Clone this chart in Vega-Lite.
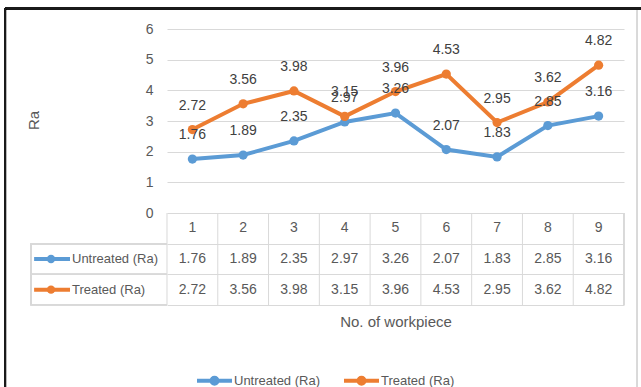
{
  "$schema": "https://vega.github.io/schema/vega-lite/v6.json",
  "width": 457,
  "height": 276,
  "autosize": {"type": "none"},
  "padding": {"left": 167, "top": 29, "right": 17, "bottom": 82},
  "background": "white",
  "config": {
    "view": {"stroke": null},
    "font": "Liberation Sans, Arial, sans-serif",
    "text": {"font": "Liberation Sans, Arial, sans-serif"}
  },
  "data": {
    "values": [
      {"n": 1, "series": "Untreated (Ra)", "ra": 1.76},
      {"n": 2, "series": "Untreated (Ra)", "ra": 1.89},
      {"n": 3, "series": "Untreated (Ra)", "ra": 2.35},
      {"n": 4, "series": "Untreated (Ra)", "ra": 2.97},
      {"n": 5, "series": "Untreated (Ra)", "ra": 3.26},
      {"n": 6, "series": "Untreated (Ra)", "ra": 2.07},
      {"n": 7, "series": "Untreated (Ra)", "ra": 1.83},
      {"n": 8, "series": "Untreated (Ra)", "ra": 2.85},
      {"n": 9, "series": "Untreated (Ra)", "ra": 3.16},
      {"n": 1, "series": "Treated (Ra)", "ra": 2.72},
      {"n": 2, "series": "Treated (Ra)", "ra": 3.56},
      {"n": 3, "series": "Treated (Ra)", "ra": 3.98},
      {"n": 4, "series": "Treated (Ra)", "ra": 3.15},
      {"n": 5, "series": "Treated (Ra)", "ra": 3.96},
      {"n": 6, "series": "Treated (Ra)", "ra": 4.53},
      {"n": 7, "series": "Treated (Ra)", "ra": 2.95},
      {"n": 8, "series": "Treated (Ra)", "ra": 3.62},
      {"n": 9, "series": "Treated (Ra)", "ra": 4.82}
    ]
  },
  "encoding": {
    "x": {
      "field": "n", "type": "quantitative",
      "scale": {"domain": [0.5, 9.5], "nice": false, "zero": false},
      "axis": {"title": "No. of workpiece", "labels": false, "ticks": false, "domain": false, "grid": false,
               "titleFontSize": 15, "titleColor": "#595959", "titleFontWeight": "normal", "titlePadding": 9}
    }
  },
  "layer": [
    {
      "mark": {"type": "line", "strokeWidth": 4, "point": {"filled": true, "size": 85}},
      "encoding": {
        "y": {
          "field": "ra", "type": "quantitative",
          "scale": {"domain": [-3, 6], "nice": false, "zero": false},
          "axis": {
            "title": "Ra", "values": [-3, -2, -1, 0, 1, 2, 3, 4, 5, 6], "tickCount": 12,
            "labelExpr": "datum.value >= 0 ? datum.label : ''",
            "labelOverlap": false,
            "grid": true, "gridColor": "#d9d9d9", "gridWidth": 1,
            "ticks": false, "domain": false,
            "labelPadding": 14, "labelFontSize": 14, "labelColor": "#595959",
            "titleFontSize": 15, "titleColor": "#595959", "titleFontWeight": "normal",
            "titleX": -134, "titleY": 91, "titleAlign": "center", "titleBaseline": "middle"
          }
        },
        "color": {
          "field": "series", "type": "nominal",
          "scale": {"domain": ["Untreated (Ra)", "Treated (Ra)"], "range": ["#5b9bd5", "#ed7d31"]},
          "legend": {
            "title": null, "orient": "none", "direction": "horizontal",
            "legendX": 28, "legendY": 332,
            "symbolType": "M-1,0H1M0.17,0A0.17,0.17,0,1,1,-0.17,0A0.17,0.17,0,1,1,0.17,0Z",
            "symbolSize": 1225, "symbolStrokeWidth": 4,
            "labelFontSize": 13, "labelColor": "#595959", "labelOffset": 0,
            "columnPadding": 16
          }
        }
      }
    },
    {
      "mark": {"type": "text", "dy": -24, "fontSize": 14, "color": "#404040"},
      "encoding": {
        "y": {"field": "ra", "type": "quantitative"},
        "text": {"field": "ra", "type": "quantitative", "format": ".2f"}
      }
    },
    {
      "transform": [{"filter": "datum.series == 'Untreated (Ra)'"}],
      "mark": {"type": "text", "fontSize": 14, "color": "#595959"},
      "encoding": {
        "y": {"datum": -0.5, "type": "quantitative"},
        "text": {"field": "n", "type": "quantitative"}
      }
    },
    {
      "transform": [{"filter": "datum.series == 'Untreated (Ra)'"}],
      "mark": {"type": "rule", "color": "#d9d9d9", "strokeWidth": 1, "xOffset": -25.39},
      "encoding": {
        "y": {"datum": 0, "type": "quantitative"},
        "y2": {"datum": -3}
      }
    },
    {
      "mark": {"type": "rule", "color": "#d9d9d9", "strokeWidth": 1},
      "encoding": {
        "x": {"datum": 9.5, "type": "quantitative"},
        "y": {"datum": 0, "type": "quantitative"},
        "y2": {"datum": -3}
      }
    },
    {
      "mark": {"type": "rule", "color": "#d9d9d9", "strokeWidth": 1},
      "encoding": {
        "x": {"datum": -2.184, "type": "quantitative"},
        "y": {"datum": -1, "type": "quantitative"},
        "y2": {"datum": -3}
      }
    },
    {
      "mark": {"type": "rule", "color": "#d9d9d9", "strokeWidth": 1},
      "encoding": {
        "x": {"datum": -2.184, "type": "quantitative"},
        "x2": {"datum": 0.5},
        "y": {"datum": -1, "type": "quantitative"}
      }
    },
    {
      "mark": {"type": "rule", "color": "#d9d9d9", "strokeWidth": 1},
      "encoding": {
        "x": {"datum": -2.184, "type": "quantitative"},
        "x2": {"datum": 0.5},
        "y": {"datum": -2, "type": "quantitative"}
      }
    },
    {
      "mark": {"type": "rule", "color": "#d9d9d9", "strokeWidth": 1},
      "encoding": {
        "x": {"datum": -2.184, "type": "quantitative"},
        "x2": {"datum": 0.5},
        "y": {"datum": -3, "type": "quantitative"}
      }
    },
    {
      "mark": {"type": "rule", "color": "#1a1a1a", "strokeWidth": 2},
      "encoding": {
        "x": {"datum": -2.69, "type": "quantitative"},
        "x2": {"datum": 9.9},
        "y": {"datum": 6.675, "type": "quantitative"}
      }
    },
    {
      "mark": {"type": "rule", "color": "#1a1a1a", "strokeWidth": 2},
      "encoding": {
        "x": {"datum": -2.69, "type": "quantitative"},
        "y": {"datum": 6.675, "type": "quantitative"},
        "y2": {"datum": -5.8}
      }
    },
    {
      "mark": {"type": "rule", "color": "#d9d9d9", "strokeWidth": 1},
      "encoding": {
        "x": {"datum": 9.755, "type": "quantitative"},
        "y": {"datum": 6.6, "type": "quantitative"},
        "y2": {"datum": -5.8}
      }
    },
    {
      "transform": [{"filter": "datum.series == 'Untreated (Ra)'"}],
      "encoding": {"y": {"datum": -1.5, "type": "quantitative"}},
      "layer": [
        {
          "mark": {"type": "text", "fontSize": 14, "color": "#595959"},
          "encoding": {"text": {"field": "ra", "type": "quantitative", "format": ".2f"}}
        },
        {
          "transform": [{"filter": "datum.n == 1"}],
          "mark": {"type": "rule", "strokeWidth": 4},
          "encoding": {
            "x": {"datum": -2.117, "type": "quantitative"},
            "x2": {"datum": -1.41},
            "color": {"field": "series", "type": "nominal"}
          }
        },
        {
          "transform": [{"filter": "datum.n == 1"}],
          "mark": {"type": "point", "filled": true, "size": 70, "opacity": 1},
          "encoding": {
            "x": {"datum": -1.784, "type": "quantitative"},
            "color": {"field": "series", "type": "nominal"}
          }
        },
        {
          "transform": [{"filter": "datum.n == 1"}],
          "mark": {"type": "text", "fontSize": 13, "color": "#595959", "align": "left"},
          "encoding": {
            "x": {"datum": -1.371, "type": "quantitative"},
            "text": {"field": "series", "type": "nominal"}
          }
        }
      ]
    },
    {
      "transform": [{"filter": "datum.series == 'Treated (Ra)'"}],
      "encoding": {"y": {"datum": -2.5, "type": "quantitative"}},
      "layer": [
        {
          "mark": {"type": "text", "fontSize": 14, "color": "#595959"},
          "encoding": {"text": {"field": "ra", "type": "quantitative", "format": ".2f"}}
        },
        {
          "transform": [{"filter": "datum.n == 1"}],
          "mark": {"type": "rule", "strokeWidth": 4},
          "encoding": {
            "x": {"datum": -2.117, "type": "quantitative"},
            "x2": {"datum": -1.41},
            "color": {"field": "series", "type": "nominal"}
          }
        },
        {
          "transform": [{"filter": "datum.n == 1"}],
          "mark": {"type": "point", "filled": true, "size": 70, "opacity": 1},
          "encoding": {
            "x": {"datum": -1.784, "type": "quantitative"},
            "color": {"field": "series", "type": "nominal"}
          }
        },
        {
          "transform": [{"filter": "datum.n == 1"}],
          "mark": {"type": "text", "fontSize": 13, "color": "#595959", "align": "left"},
          "encoding": {
            "x": {"datum": -1.371, "type": "quantitative"},
            "text": {"field": "series", "type": "nominal"}
          }
        }
      ]
    }
  ]
}
